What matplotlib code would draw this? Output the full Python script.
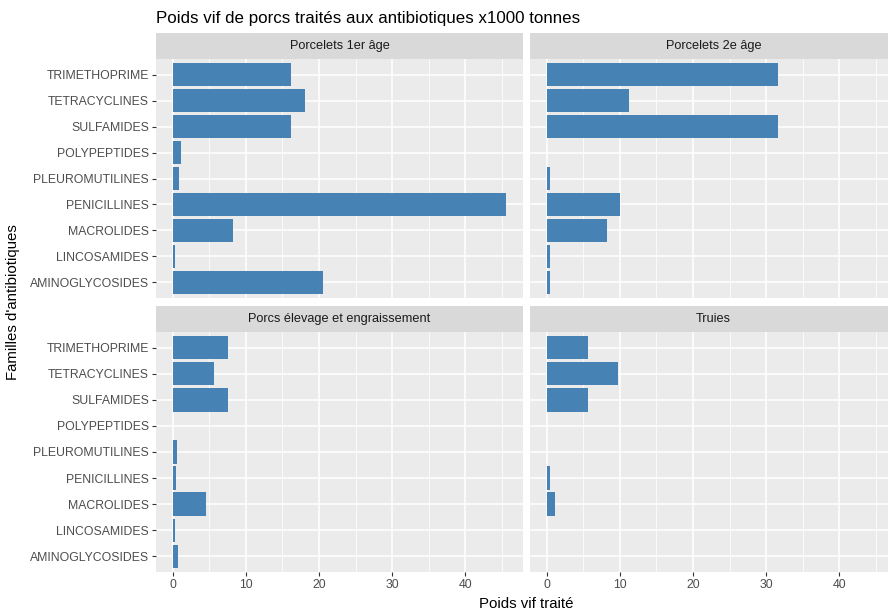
import numpy as np
import matplotlib
matplotlib.use("Agg")
import matplotlib.pyplot as plt

plt.rcParams['font.family'] = ['Liberation Sans', 'DejaVu Sans']

familles = ["AMINOGLYCOSIDES", "LINCOSAMIDES", "MACROLIDES", "PENICILLINES",
            "PLEUROMUTILINES", "POLYPEPTIDES", "SULFAMIDES", "TETRACYCLINES",
            "TRIMETHOPRIME"]

# values read bottom to top (same order as familles)
porcelets_1er = [20.5, 0.3, 8.2, 45.6, 0.8, 1.2, 16.2, 18.1, 16.2]
porcelets_2e = [0.4, 0.4, 8.3, 10.0, 0.4, 0.0, 31.6, 11.3, 31.6]
porcs_engr = [0.7, 0.3, 4.6, 0.4, 0.55, 0.0, 7.5, 5.6, 7.5]
truies = [0.0, 0.0, 1.1, 0.4, 0.0, 0.0, 5.7, 9.8, 5.7]

panels = [("Porcelets 1er âge", porcelets_1er),
          ("Porcelets 2e âge", porcelets_2e),
          ("Porcs élevage et engraissement", porcs_engr),
          ("Truies", truies)]

W, H = 888, 611
fig = plt.figure(figsize=(W / 100, H / 100), dpi=100)

def px_axes(x0, y0, x1, y1):
    # pixel box (top-left origin) -> figure axes
    return fig.add_axes([x0 / W, 1 - y1 / H, (x1 - x0) / W, (y1 - y0) / H])

cols = [(156, 523), (530, 897)]
rows = [(33, 59, 298), (306, 332, 572)]

xmax = max(max(p[1]) for p in panels)
xlim = (-0.05 * xmax, 1.05 * xmax)
ypos = np.arange(len(familles))

for i, (name, vals) in enumerate(panels):
    r, c = divmod(i, 2)
    x0, x1 = cols[c]
    s0, s1, p1 = rows[r]

    strip = px_axes(x0, s0, x1, s1)
    strip.set_facecolor("#D9D9D9")
    strip.set_xticks([])
    strip.set_yticks([])
    for sp in strip.spines.values():
        sp.set_visible(False)
    strip.text(0.5, 0.5, name, ha="center", va="center", fontsize=9.2,
               color="#1A1A1A", transform=strip.transAxes)

    ax = px_axes(x0, s1, x1, p1)
    ax.set_facecolor("#EBEBEB")
    ax.barh(ypos, vals, height=0.9, color="steelblue", linewidth=0, zorder=3)
    ax.set_xlim(*xlim)
    ax.set_ylim(-0.6, len(familles) - 0.4)
    ax.set_xticks([0, 10, 20, 30, 40])
    ax.set_xticks([5, 15, 25, 35, 45], minor=True)
    ax.set_yticks(ypos)
    ax.grid(which="major", color="white", linewidth=1.1, zorder=0)
    ax.grid(which="minor", axis="x", color="white", linewidth=0.55, zorder=0)
    ax.set_axisbelow(True)
    for sp in ax.spines.values():
        sp.set_visible(False)
    ax.tick_params(which="minor", length=0)
    ax.tick_params(which="major", length=3, width=0.8, color="#333333",
                   labelsize=8.8, labelcolor="#4D4D4D", pad=2)
    if c == 0:
        ax.set_yticklabels(familles)
    else:
        ax.tick_params(axis="y", length=0, labelleft=False)
    if r == 0:
        ax.tick_params(axis="x", length=0, labelbottom=False)

fig.text(156 / W, 1 - 18 / H, "Poids vif de porcs traités aux antibiotiques x1000 tonnes",
         ha="left", va="center", fontsize=12.2)
fig.text((156 + 897) / 2 / W, 1 - 604 / H, "Poids vif traité",
         ha="center", va="center", fontsize=10.8)
fig.text(13 / W, 1 - 302 / H, "Familles d'antibiotiques", rotation=90,
         ha="center", va="center", fontsize=10.8)

fig.savefig("out.png", dpi=100)
